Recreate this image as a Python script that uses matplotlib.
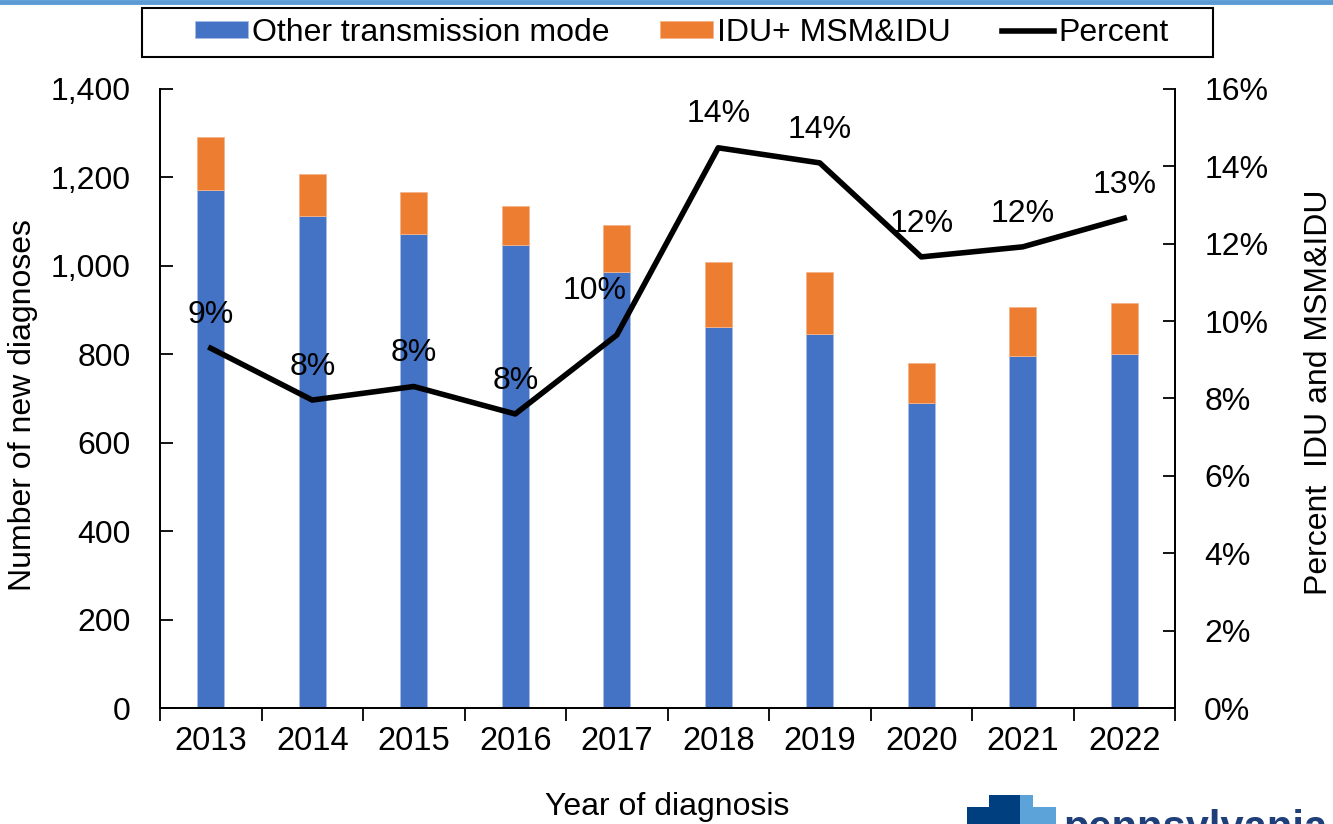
import numpy as np
import matplotlib
matplotlib.use("Agg")
import matplotlib.pyplot as plt
from matplotlib.patches import Polygon, Rectangle
from matplotlib.ticker import FuncFormatter, MultipleLocator, FixedLocator

plt.rcParams['font.family'] = ['Liberation Sans', 'DejaVu Sans']

# Data
years = ['2013', '2014', '2015', '2016', '2017', '2018', '2019', '2020', '2021', '2022']
other_mode = [1171, 1113, 1071, 1048, 987, 862, 847, 690, 797, 800]
idu_msm = [120, 95, 96, 87, 106, 146, 138, 91, 109, 117]
percent = [9.3, 7.96, 8.31, 7.6, 9.64, 14.48, 14.09, 11.66, 11.92, 12.66]
pct_labels = ['9%', '8%', '8%', '8%', '10%', '14%', '14%', '12%', '12%', '13%']

blue = '#4472C4'
orange = '#ED7D31'
W, H = 1333.0, 824.0

fig = plt.figure(figsize=(13.33, 8.24), dpi=100)
ax = fig.add_axes([160 / W, 1 - 708 / H, 1015 / W, 619 / H])
ax2 = ax.twinx()

x = np.arange(len(years))
b1 = ax.bar(x, other_mode, width=0.27, color=blue, edgecolor='#A9BEE6', linewidth=0.6,
            label='Other transmission mode', zorder=2)
b2 = ax.bar(x, idu_msm, width=0.27, bottom=other_mode, color=orange, edgecolor='#F5B48A',
            linewidth=0.6, label='IDU+ MSM&IDU', zorder=2)

ln, = ax2.plot(x, percent, color='black', linewidth=4, label='Percent', zorder=3)
for i, (p, lab) in enumerate(zip(percent, pct_labels)):
    dx, dy = (-16, 32) if i == 4 else (0, 24)
    ax2.annotate(lab, (x[i], p), xytext=(dx, dy), textcoords='offset points',
                 ha='center', va='center', fontsize=23)

ax.set_xlim(-0.5, len(years) - 0.5)
ax.set_ylim(0, 1400)
ax2.set_ylim(0, 16)
ax.yaxis.set_major_locator(MultipleLocator(200))
ax.yaxis.set_major_formatter(FuncFormatter(lambda v, _: f'{int(v):,}'))
ax2.yaxis.set_major_locator(MultipleLocator(2))
ax2.yaxis.set_major_formatter(FuncFormatter(lambda v, _: f'{int(v)}%'))

ax.set_xticks(x)
ax.set_xticklabels(years)
ax.tick_params(axis='x', length=0, labelsize=23.5, pad=13)
ax.xaxis.set_minor_locator(FixedLocator(np.arange(-0.5, len(years), 1.0)))
ax.tick_params(axis='x', which='minor', length=9, width=1.3, direction='out')
ax.tick_params(axis='y', labelsize=23, length=9, width=1.3, pad=21, direction='in')
ax2.tick_params(axis='y', labelsize=23, length=9, width=1.3, pad=21, direction='in')

for a in (ax, ax2):
    a.spines['top'].set_visible(False)
    for s in ('left', 'right', 'bottom'):
        a.spines[s].set_linewidth(1.3)

ax.set_xlabel('Year of diagnosis', fontsize=23)
ax.xaxis.set_label_coords(0.5, (708 - 792) / 619)
ax.set_ylabel('Number of new diagnoses', fontsize=23)
ax.yaxis.set_label_coords((38 - 160) / 1015, 0.49)
ax2.set_ylabel('Percent  IDU and MSM&IDU', fontsize=23)
ax2.yaxis.set_label_coords((1304 - 160) / 1015, 0.51)

leg = fig.legend([b1, b2, ln], ['Other transmission mode', 'IDU+ MSM&IDU', 'Percent'],
                 loc='center', bbox_to_anchor=(0.5115, 1 - 33 / H), ncol=3, fontsize=23,
                 frameon=False, handlelength=1.65, handleheight=0.47,
                 columnspacing=1.6, handletextpad=0.12, borderpad=0.2)
fig.add_artist(Rectangle((142 / W, 1 - 57 / H), 1071 / W, 49 / H, transform=fig.transFigure,
                         facecolor='none', edgecolor='black', linewidth=1.5))

# top rule line
fig.add_artist(plt.Line2D([0, 1], [1 - 1.5 / H, 1 - 1.5 / H], color='#5B9BD5', linewidth=3.5,
                          transform=fig.transFigure))

# logo fragment at bottom right
dark = '#003F7F'
light = '#5BA3D9'
key_dark = [(967, 824), (967, 807), (989, 807), (989, 795), (1020, 795), (1020, 824)]
key_light = [(1020, 824), (1020, 795), (1033, 795), (1033, 807), (1056, 807), (1056, 824)]
for pts, c in ((key_dark, dark), (key_light, light)):
    fig.add_artist(Polygon([(px / W, 1 - py / H) for px, py in pts], closed=True,
                           facecolor=c, edgecolor='none', transform=fig.transFigure))
fig.text(1063 / W, 1 - 840 / H, 'pennsylvania', color='#1F3F7A', fontsize=30,
         fontweight='bold', ha='left', va='baseline')

fig.savefig('out.png', dpi=100)
